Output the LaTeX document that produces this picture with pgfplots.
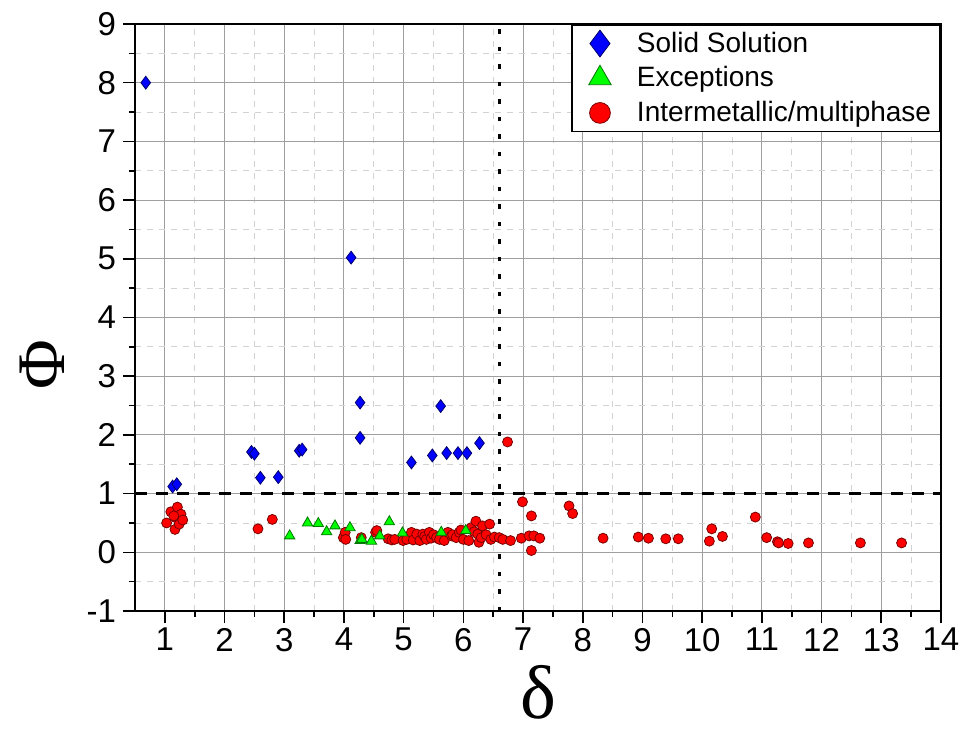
\documentclass[border=0pt]{standalone}
\usepackage{fontspec}
\setmainfont{Liberation Sans}
\newfontfamily\greekserif{Liberation Serif}
\usepackage{pgfplots}
\pgfplotsset{compat=1.18}
\definecolor{ssblue}{RGB}{0,0,255}
\definecolor{ssedge}{RGB}{0,0,110}
\definecolor{exgreen}{RGB}{0,255,0}
\definecolor{exedge}{RGB}{0,120,0}
\definecolor{imred}{RGB}{255,0,0}
\definecolor{imedge}{RGB}{120,0,0}
\begin{document}
\begin{tikzpicture}
\begin{axis}[
  scale only axis, width=403pt, height=293.5pt,
  xmin=0.5, xmax=14, ymin=-1, ymax=9,
  xtick={1,...,14}, ytick={-1,0,...,9},
  minor x tick num=1, minor y tick num=1,
  grid=both,
  major grid style={draw=gray!75, line width=0.5pt},
  minor grid style={draw=gray!35, dashed, line width=0.4pt},
  tick align=outside, xtick pos=bottom, ytick pos=left,
  major tick length=6pt, minor tick length=3pt,
  every tick/.style={black, line width=0.8pt},
  axis line style={line width=1.3pt},
  tick label style={font=\fontsize{16.5}{16.5}\selectfont},
  xticklabel style={yshift=1pt},
  /pgf/number format/assume math mode=true,
  xlabel={\greekserif\fontsize{38}{38}\selectfont δ},
  ylabel={\greekserif\fontsize{34}{34}\selectfont Φ},
  xlabel style={at={(axis description cs:0.5,-0.138)}, anchor=center, inner sep=0pt},
  ylabel style={at={(axis description cs:-0.115,0.42)}, anchor=center},
  reverse legend,
  legend cell align=left,
  legend style={at={(1,1)}, anchor=north east, draw=black, line width=0.9pt,
    fill=white, font=\fontsize{14}{14}\selectfont,
    inner xsep=3pt, inner ysep=2pt, row sep=2.7pt,
    nodes={inner sep=1.5pt}},
  legend image code/.code={%
    \path[draw=none] (0pt,0pt) -- (28pt,0pt);
    \draw[mark repeat=2,mark phase=2,#1,draw=none] plot coordinates {(0pt,0pt) (11pt,0pt) (22pt,0pt)};},
]
\coordinate (sw) at (rel axis cs:0,0);
\coordinate (ne) at (rel axis cs:1,1);
\addplot[forget plot, black, line width=1.3pt, dash pattern=on 6pt off 4.5pt] coordinates {(0.5,1) (14,1)};
\addplot[forget plot, black, line width=1.5pt, dash pattern=on 2.2pt off 6.55pt] coordinates {(6.6,-1) (6.6,9)};
% Intermetallic / multiphase
\addplot[only marks, mark=*, mark size=2.5pt, mark options={fill=imred, draw=imedge, line width=0.4pt},
  legend image post style={mark size=5.2pt}] coordinates {
(1.03,0.5) (1.1,0.69) (1.17,0.39) (1.18,0.59) (1.21,0.77) (1.24,0.48) (1.27,0.65) (1.3,0.55) (1.15,0.62)
(2.56,0.4) (2.8,0.56)
(3.99,0.25) (4.02,0.34) (4.03,0.22) (4.29,0.25) (4.53,0.34) (4.55,0.37) (4.74,0.23) (4.8,0.21)
(4.85,0.22) (4.99,0.2) (5.05,0.22) (5.13,0.34) (5.16,0.21) (5.22,0.31) (5.27,0.2) (5.32,0.31)
(5.35,0.27) (5.38,0.22) (5.43,0.34) (5.46,0.24) (5.5,0.3) (5.55,0.25) (5.6,0.22) (5.68,0.2)
(5.74,0.34) (5.8,0.28) (5.82,0.3) (5.88,0.25) (5.93,0.34) (5.96,0.38) (6.0,0.22) (6.09,0.2)
(6.13,0.42) (6.18,0.35) (6.21,0.53) (6.24,0.31) (6.26,0.17) (6.3,0.25) (6.32,0.45) (6.38,0.3)
(6.44,0.48) (6.46,0.22) (6.52,0.26) (6.6,0.25) (6.66,0.22) (6.74,1.88) (6.79,0.2) (6.97,0.24)
(6.99,0.86) (7.1,0.28) (7.14,0.62) (7.14,0.03) (7.18,0.28) (7.28,0.24) (7.77,0.79) (7.83,0.66)
(8.34,0.24) (8.93,0.26) (9.1,0.24) (9.39,0.23) (9.6,0.23) (10.12,0.19) (10.16,0.4) (10.34,0.27)
(10.89,0.6) (11.08,0.25) (11.26,0.18) (11.28,0.16) (11.44,0.15) (11.78,0.16) (12.65,0.16) (13.34,0.16)
};
\addlegendentry{Intermetallic/multiphase}
% Exceptions
\addplot[only marks, mark=triangle*, mark size=3pt, mark options={fill=exgreen, draw=exedge, line width=0.4pt},
  legend image post style={mark size=6.5pt}] coordinates {
(3.09,0.28) (3.39,0.5) (3.57,0.49) (3.71,0.35) (3.85,0.45) (4.1,0.42) (4.27,0.2) (4.3,0.22)
(4.46,0.19) (4.6,0.28) (4.76,0.52) (4.98,0.33) (5.63,0.34) (6.04,0.37)
};
\addlegendentry{Exceptions}
% Solid solution
\addplot[only marks, mark=diamond*, mark size=3.2pt, mark options={fill=ssblue, draw=ssedge, line width=0.4pt},
  legend image post style={mark size=6.7pt}] coordinates {
(0.68,8.0) (1.13,1.12) (1.2,1.16) (2.45,1.71) (2.5,1.68) (2.6,1.27) (2.9,1.28) (3.25,1.73)
(3.3,1.75) (4.12,5.02) (4.27,2.55) (4.27,1.95) (5.13,1.53) (5.48,1.65) (5.72,1.69) (5.91,1.69)
(6.06,1.69) (6.27,1.86) (5.62,2.49)
};
\addlegendentry{Solid Solution}
\end{axis}
\pgfresetboundingbox
\path ([shift={(-67.5pt,-62.5pt)}]sw) rectangle ([shift={(12pt,12pt)}]ne);
\end{tikzpicture}
\end{document}
